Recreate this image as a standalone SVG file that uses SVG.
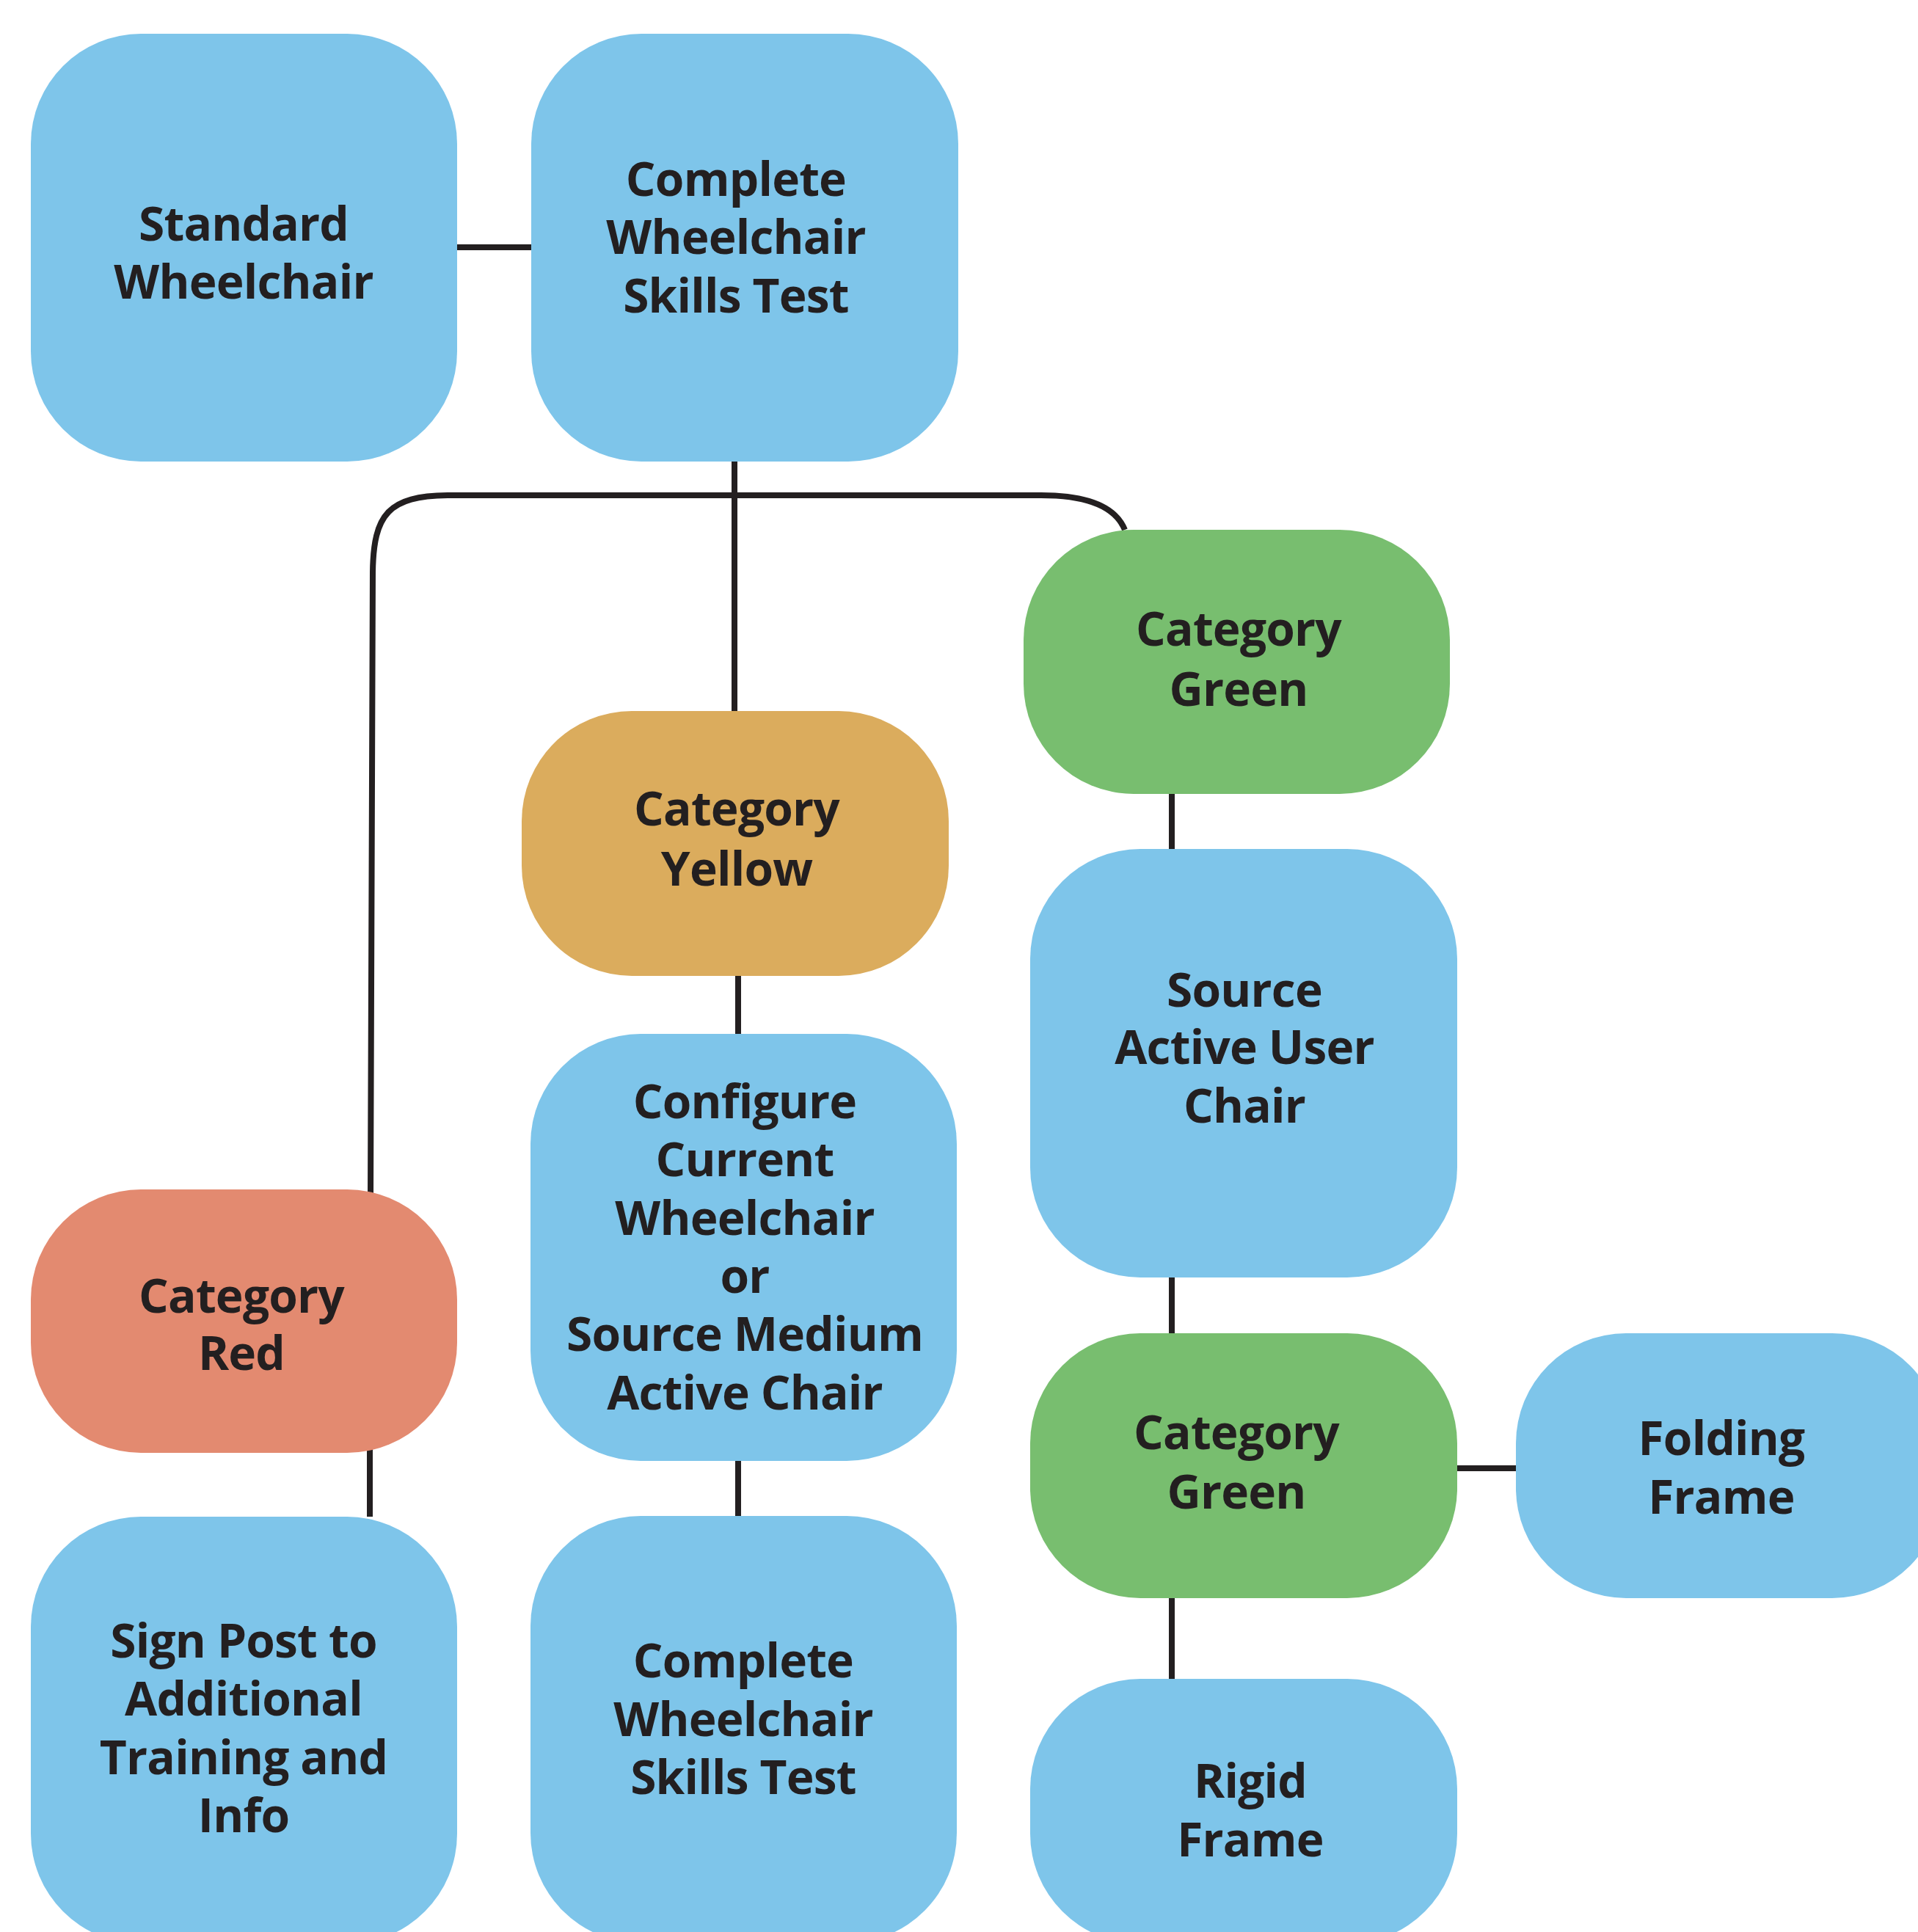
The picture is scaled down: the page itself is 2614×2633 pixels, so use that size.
<svg xmlns="http://www.w3.org/2000/svg" width="2614" height="2633" viewBox="0 0 2614 2633">
<style>
.blue{fill:#7EC5EA}
.yellow{fill:#DBAC5D}
.green{fill:#78BE6F}
.red{fill:#E38A70}
text{font-family:"Open Sans","Noto Sans","Liberation Sans",sans-serif;font-weight:700;font-size:64px;fill:#231F20;text-anchor:middle;letter-spacing:-0.8px}
.conn path{fill:none;stroke:#231F20;stroke-width:8}
</style>
<rect width="2614" height="2633" fill="#ffffff"/>
<g class="conn" id="connectors">
<path d="M623 337 L724 337"/>
<path d="M1001 629 L1001 969"/>
<path d="M504 1630 L504 2067"/>
<path d="M505 1630 L508 780 C509 700 530 676 610 675 L1419 675 C1480 675 1520 690 1533 722"/>
<path d="M1006 1330 L1006 1409"/>
<path d="M1006 1991 L1006 2066"/>
<path d="M1597 1082 L1597 1157"/>
<path d="M1597 1741 L1597 1817"/>
<path d="M1986 2001 L2066 2001"/>
<path d="M1597 2178 L1597 2288"/>
</g>
<g id="n1"><rect class="blue" x="42" y="46" width="581" height="583" rx="150"/>
<text x="332"><tspan x="332" y="328">Standard</tspan><tspan x="332" y="407">Wheelchair</tspan></text></g>
<g id="n2"><rect class="blue" x="724" y="46" width="582" height="583" rx="150"/>
<text><tspan x="1003" y="267">Complete</tspan><tspan x="1003" y="346">Wheelchair</tspan><tspan x="1003" y="426">Skills Test</tspan></text></g>
<g id="n3"><rect class="yellow" x="711" y="969" width="582" height="361" rx="150"/>
<text><tspan x="1004" y="1125">Category</tspan><tspan x="1004" y="1207">Yellow</tspan></text></g>
<g id="n4"><rect class="green" x="1395" y="722" width="581" height="360" rx="150"/>
<text><tspan x="1688" y="880">Category</tspan><tspan x="1688" y="962">Green</tspan></text></g>
<g id="n5"><rect class="blue" x="1404" y="1157" width="582" height="584" rx="150"/>
<text><tspan x="1696" y="1372">Source</tspan><tspan x="1696" y="1450">Active User</tspan><tspan x="1696" y="1530">Chair</tspan></text></g>
<g id="n6"><rect class="red" x="42" y="1621" width="581" height="359" rx="150"/>
<text><tspan x="329" y="1789">Category</tspan><tspan x="329" y="1867">Red</tspan></text></g>
<g id="n7"><rect class="blue" x="723" y="1409" width="581" height="582" rx="150"/>
<text><tspan x="1015" y="1524">Configure</tspan><tspan x="1015" y="1603">Current</tspan><tspan x="1015" y="1683">Wheelchair</tspan><tspan x="1015" y="1762">or</tspan><tspan x="1015" y="1841">Source Medium</tspan><tspan x="1015" y="1921">Active Chair</tspan></text></g>
<g id="n8"><rect class="green" x="1404" y="1817" width="582" height="361" rx="150"/>
<text><tspan x="1685" y="1975">Category</tspan><tspan x="1685" y="2056">Green</tspan></text></g>
<g id="n9"><rect class="blue" x="2066" y="1817" width="581" height="361" rx="150"/>
<text><tspan x="2346" y="1983">Folding</tspan><tspan x="2346" y="2063">Frame</tspan></text></g>
<g id="n10"><rect class="blue" x="42" y="2067" width="581" height="582" rx="150"/>
<text><tspan x="332" y="2259">Sign Post to</tspan><tspan x="332" y="2338">Additional</tspan><tspan x="332" y="2418">Training and</tspan><tspan x="332" y="2497">Info</tspan></text></g>
<g id="n11"><rect class="blue" x="723" y="2066" width="581" height="582" rx="150"/>
<text><tspan x="1013" y="2286">Complete</tspan><tspan x="1013" y="2366">Wheelchair</tspan><tspan x="1013" y="2445">Skills Test</tspan></text></g>
<g id="n12"><rect class="blue" x="1404" y="2288" width="582" height="361" rx="150"/>
<text><tspan x="1704" y="2450">Rigid</tspan><tspan x="1704" y="2530">Frame</tspan></text></g>
</svg>
